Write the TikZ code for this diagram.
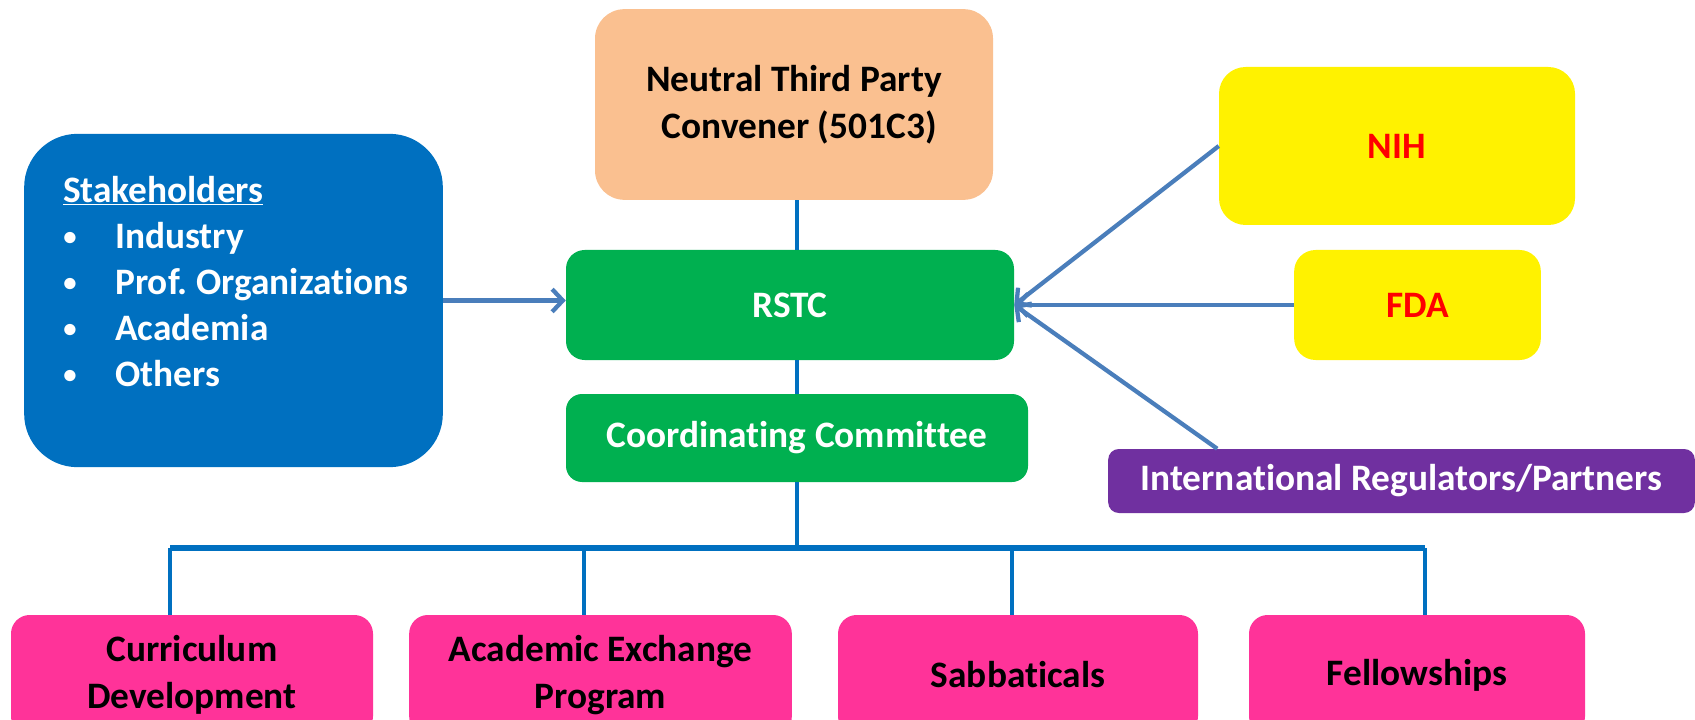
\documentclass[tikz,border=0pt]{standalone}
\usepackage{fontspec}
\setmainfont{Carlito}[Ligatures=NoCommon]
\usetikzlibrary{arrows.meta}
\definecolor{convfill}{RGB}{250,192,144}
\definecolor{stakeblue}{RGB}{0,112,192}
\definecolor{rstcgreen}{RGB}{0,176,80}
\definecolor{regpurple}{RGB}{112,48,160}
\definecolor{progpink}{RGB}{255,51,153}
\definecolor{arrowblue}{RGB}{74,126,187}
\definecolor{treeblue}{RGB}{0,112,192}
\newcommand{\stakeitem}{\makebox[39pt][l]{\raisebox{2.5pt}{\fontsize{20}{20}\selectfont\textbullet}}}
\begin{document}
\begin{tikzpicture}[x=0.75pt,y=0.75pt,yscale=-1,xscale=1,
    txt/.style={font=\fontsize{28}{35}\selectfont\bfseries, align=center},
    card/.style={txt, rounded corners=#1, inner sep=0pt},
    prog/.style={card=14pt, fill=progpink, minimum height=90pt},
    feed/.style={draw=arrowblue, line width=3.2pt, -{Straight Barb[length=8pt,width=17pt]}},
    tree/.style={draw=treeblue, line width=3.5pt}]
        \useasboundingbox (0,0) rectangle (1695,720);
        \clip (0,0) rectangle (1695,720);
        % boxes
        \node [card=22pt, fill=convfill, minimum width=298.5pt, minimum height=143pt] (conv) at (794,104.5) {Neutral Third Party\\\hspace*{8pt}Convener (501C3)};
        \node [card=40pt, fill=stakeblue, minimum width=314pt, minimum height=250pt] (stake) at (233.5,300.5) {};
        \node [txt, text=white, align=left, anchor=north west, inner sep=0pt, font=\fontsize{28}{34.5}\selectfont\bfseries] (stakelist) at (63,176) {\underline{Stakeholders}\\
            \stakeitem Industry\\
            \stakeitem Prof.\ Organizations\\
            \stakeitem Academia\\
            \stakeitem Others};
        \node [card=14pt, fill=rstcgreen, text=white, minimum width=336pt, minimum height=82.5pt] (rstc) at (790,305) {RSTC};
        \node [card=12pt, fill=rstcgreen, text=white, minimum width=346.5pt, minimum height=66pt] (coord) at (797,438) {Coordinating Committee};
        \node [card=20pt, fill=yellow, text=red, minimum width=267pt, minimum height=118.5pt] (nih) at (1397,146) {NIH};
        \node [card=16pt, fill=yellow, text=red, minimum width=185pt, minimum height=82.5pt] (fda) at (1417.5,305) {FDA};
        \node [card=8pt, fill=regpurple, text=white, minimum width=440pt, minimum height=48pt] (intl) at (1401.5,481) {International Regulators/Partners};
        \node [prog, minimum width=271.5pt] (curric) at (192,675) {Curriculum\\Development};
        \node [prog, minimum width=287pt] (acad) at (600.5,675) {Academic Exchange\\Program};
        \node [prog, minimum width=270pt] (sabb) at (1018,675) {Sabbaticals};
        \node [prog, minimum width=252pt] (fell) at (1417,675) {Fellowships};
        % tree
        \coordinate (hub) at (797,548);
        \coordinate (tapA) at (170,548);
        \coordinate (tapB) at (584,548);
        \coordinate (tapC) at (1012,548);
        \coordinate (tapD) at (1425,548);
        \draw [tree] (conv.south -| hub) -- (rstc.north -| hub);
        \draw [tree] (rstc.south -| hub) -- (coord.north -| hub);
        \draw [tree] (coord.south -| hub) -- (hub);
        \draw [tree, line width=4.5pt] (tapA) -- (tapD);
        \draw [tree, line width=3pt] (tapA) -- (tapA |- curric.north);
        \draw [tree, line width=3pt] (tapB) -- (tapB |- acad.north);
        \draw [tree, line width=3pt] (tapC) -- (tapC |- sabb.north);
        \draw [tree, line width=3pt] (tapD) -- (tapD |- fell.north);
        % arrows into RSTC
        \draw [feed] (stake.east) -- (stake.east -| rstc.west);
        \draw [feed] (nih.west) -- (rstc.east);
        \draw [feed] (fda.west) -- (rstc.east);
        \draw [feed] ([xshift=82pt]intl.north west) -- (rstc.east);
\end{tikzpicture}
\end{document}
